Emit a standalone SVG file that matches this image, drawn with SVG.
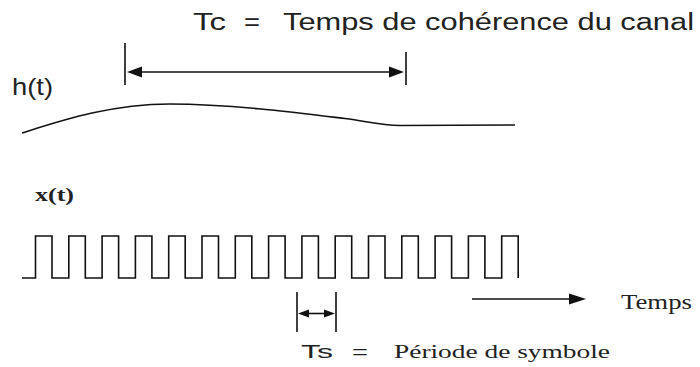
<svg xmlns="http://www.w3.org/2000/svg" width="700" height="367" viewBox="0 0 700 367">
<style>
.sans{font-family:"Liberation Sans",Arial,sans-serif;fill:#222}
.serif{font-family:"Liberation Serif","Times New Roman",serif;fill:#222}
.ln{stroke:#111;stroke-width:1.6;fill:none}
.ah{fill:#111}
</style>
<rect width="700" height="367" fill="#fff"/>
<g id="title-tc">
<text class="sans" x="193" y="29.5" font-size="23" textLength="33" lengthAdjust="spacingAndGlyphs">Tc</text>
<text class="sans" x="244" y="29.5" font-size="23" textLength="16" lengthAdjust="spacingAndGlyphs">=</text>
<text class="sans" x="283" y="29.5" font-size="23" textLength="411" lengthAdjust="spacingAndGlyphs">Temps de cohérence du canal</text>
</g>
<g id="label-h">
<text class="sans" x="12" y="94.5" font-size="24" textLength="41" lengthAdjust="spacingAndGlyphs">h(t)</text>
</g>
<g id="label-x">
<text class="serif" x="35" y="200.5" font-size="19" font-weight="bold" textLength="39" lengthAdjust="spacingAndGlyphs">x(t)</text>
</g>
<g id="label-temps">
<text class="serif" x="621" y="308.5" font-size="21" textLength="71" lengthAdjust="spacingAndGlyphs">Temps</text>
</g>
<g id="label-ts">
<text class="sans" x="301" y="358" font-size="18" textLength="32" lengthAdjust="spacingAndGlyphs">Ts</text>
<text class="sans" x="352" y="358" font-size="18" textLength="16" lengthAdjust="spacingAndGlyphs">=</text>
<text class="serif" x="394" y="358" font-size="19" textLength="216" lengthAdjust="spacingAndGlyphs">Période de symbole</text>
</g>
<g id="curve-h">
<path class="ln" stroke-width="1.5" d="M22,133 C60,121 110,104 170,104 S300,113 345,118.5 C368,121.5 380,125 400,125.5 L515,125"/>
</g>
<g id="signal-x">
<path class="ln" stroke-width="1.8" d="M22,278 H35.5 V236 H52 V278 H68.8 V236 H85.3 V278 H102.1 V236 H118.6 V278 H135.4 V236 H151.9 V278 H168.7 V236 H185.2 V278 H202 V236 H218.5 V278 H235.3 V236 H251.8 V278 H268.6 V236 H285.1 V278 H301.9 V236 H318.4 V278 H335.2 V236 H351.7 V278 H368.5 V236 H385 V278 H401.8 V236 H418.3 V278 H435.1 V236 H451.6 V278 H468.4 V236 H484.9 V278 H501.7 V236 H518.2 V278"/>
</g>
<g id="connectors">
<g id="tc-arrow">
<line class="ln" x1="125" y1="43" x2="125" y2="85" stroke-width="2"/>
<line class="ln" x1="406" y1="52" x2="406" y2="85" stroke-width="2"/>
<line class="ln" x1="140" y1="72" x2="390" y2="72"/>
<polygon class="ah" points="127,72 142,66.5 142,77.5"/>
<polygon class="ah" points="404,72 389,66.5 389,77.5"/>
</g>
<g id="ts-arrow">
<line class="ln" x1="297" y1="292" x2="297" y2="332" stroke-width="1.8"/>
<line class="ln" x1="336" y1="292" x2="336" y2="332" stroke-width="1.8"/>
<line class="ln" x1="305" y1="313.5" x2="328" y2="313.5" stroke-width="2"/>
<polygon class="ah" points="298,313.5 309,309.5 309,317.5"/>
<polygon class="ah" points="335,313.5 324,309.5 324,317.5"/>
</g>
<g id="time-arrow">
<line class="ln" x1="472" y1="299" x2="572" y2="299" stroke-width="1.4"/>
<polygon class="ah" points="586,299 569,293.5 569,304.5"/>
</g>
</g>
</svg>
